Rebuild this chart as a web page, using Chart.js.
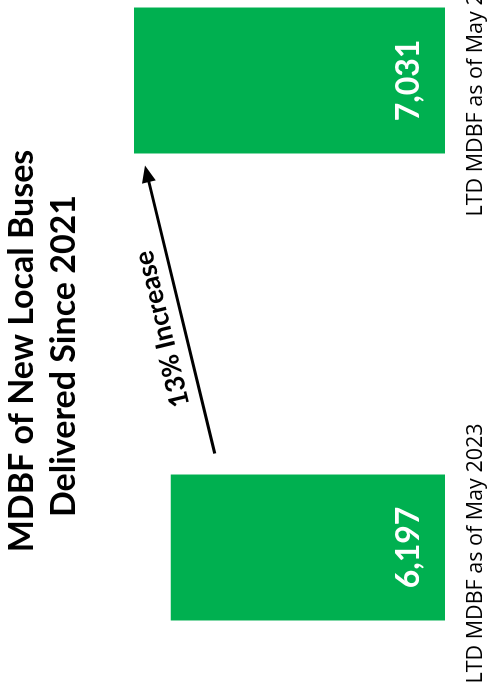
<!DOCTYPE html>
<html>
<head>
<meta charset="utf-8">
<script src="https://cdn.jsdelivr.net/npm/chart.js@4.4.1/dist/chart.umd.min.js"></script>
<style>
  html, body { margin: 0; padding: 0; background: #fff; }
  body { width: 488px; height: 687px; overflow: hidden; position: relative; }
  /* the chart is laid out on its side, then turned so it reads bottom-to-top */
  #frame {
    position: absolute; left: 0; top: 0;
    width: 687px; height: 488px; overflow: hidden;
    transform-origin: 0 0;
    transform: translate(0, 687px) rotate(-90deg);
    background: #fff;
  }
  #myChart { position: absolute; left: -194px; top: 0; }
</style>
</head>
<body>
<div id="frame"><canvas id="myChart" width="1134" height="488"></canvas></div>
<script>
const categories = ['LTD MDBF as of May 2023', 'LTD MDBF as of May 2024'];
const mdbfValues = [6197, 7031];
const titleLines = ['MDBF of New Local Buses', 'Delivered Since 2021'];
const axisMax = 8000;

const increasePct = Math.round((mdbfValues[1] / mdbfValues[0] - 1) * 100);
const increaseText = increasePct + '% Increase';

// title drawn by hand so it can sit left of the plot centre
const titlePlugin = {
    id: 'sideTitle',
    afterDraw(chart) {
        const ctx = chart.ctx;
        ctx.save();
        ctx.fillStyle = '#000';
        ctx.font = 'bold 34px Lato';
        ctx.textAlign = 'center';
        ctx.textBaseline = 'alphabetic';
        ctx.fillText(titleLines[0], 530, 33);
        ctx.fillText(titleLines[1], 525, 75);
        ctx.restore();
    }
};

// value labels inside the bars + the increase arrow between them
const barExtras = {
    id: 'barExtras',
    afterDatasetsDraw(chart) {
        const ctx = chart.ctx;
        const bars = chart.getDatasetMeta(0).data.map(b => b.getProps(['x', 'y', 'base', 'width'], true));

        ctx.save();
        ctx.fillStyle = '#fff';
        ctx.font = 'bold 32px Lato';
        ctx.textAlign = 'center';
        ctx.textBaseline = 'middle';
        bars.forEach((b, i) => {
            ctx.fillText(mdbfValues[i].toLocaleString('en-US'), b.x, b.base - 36);
        });

        const a = bars[0], c = bars[1];
        const x0 = a.x + a.width / 2 + 21, y0 = a.y + 44;
        const x1 = c.x - c.width / 2 - 12, y1 = c.y + 11;
        const ang = Math.atan2(y1 - y0, x1 - x0);
        const headLen = 17, headHalf = 7;

        ctx.strokeStyle = '#000';
        ctx.fillStyle = '#000';
        ctx.lineWidth = 3;
        ctx.beginPath();
        ctx.moveTo(x0, y0);
        ctx.lineTo(x1 - Math.cos(ang) * headLen * 0.8, y1 - Math.sin(ang) * headLen * 0.8);
        ctx.stroke();
        ctx.translate(x1, y1);
        ctx.rotate(ang);
        ctx.beginPath();
        ctx.moveTo(0, 0);
        ctx.lineTo(-headLen, -headHalf);
        ctx.lineTo(-headLen, headHalf);
        ctx.closePath();
        ctx.fill();
        ctx.restore();

        // label along the arrow
        const t = 0.45;
        ctx.save();
        ctx.translate(x0 + (x1 - x0) * t, y0 + (y1 - y0) * t);
        ctx.rotate(ang);
        ctx.fillStyle = '#000';
        ctx.font = 'bold 27px Lato';
        ctx.textAlign = 'center';
        ctx.textBaseline = 'alphabetic';
        ctx.fillText(increaseText, 0, -13);
        ctx.restore();
    }
};

new Chart('myChart', {
    type: 'bar',
    data: {
        labels: categories,
        datasets: [{
            data: mdbfValues,
            backgroundColor: '#00b050',
            borderWidth: 0,
            categoryPercentage: 1,
            barPercentage: 0.3126
        }]
    },
    options: {
        responsive: false,
        animation: false,
        layout: { padding: { left: 100, right: 100, top: 91, bottom: 0 } },
        plugins: {
            legend: { display: false },
            title: { display: false },
            tooltip: { enabled: false }
        },
        scales: {
            x: {
                grid: { display: false, drawTicks: false },
                border: { display: false },
                afterFit(scale) { scale.height = 43; },
                ticks: {
                    color: '#000',
                    font: { family: 'Open Sans', size: 21.5, lineHeight: 1.2 },
                    padding: 18,
                    labelOffset: -6,
                    maxRotation: 0,
                    autoSkip: false
                }
            },
            y: {
                display: false,
                min: 0,
                max: axisMax
            }
        }
    },
    plugins: [titlePlugin, barExtras]
});
</script>
</body>
</html>
